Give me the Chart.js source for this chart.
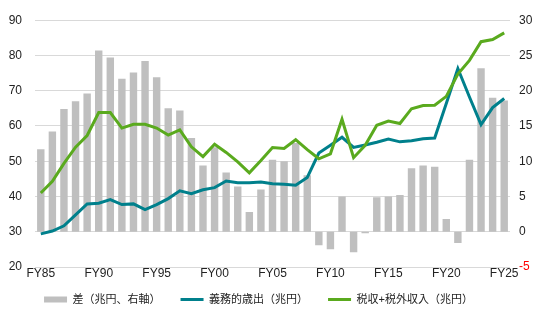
<!DOCTYPE html>
<html>
<head>
<meta charset="utf-8">
<script src="https://cdn.jsdelivr.net/npm/chart.js@4"></script>
<style>
  html, body { margin: 0; padding: 0; background: #fff; }
  #wrap { width: 545px; height: 323px; }
</style>
</head>
<body>
<div id="wrap"><canvas id="chart"></canvas></div>
<script>
const years = [
  'FY85','FY86','FY87','FY88','FY89','FY90','FY91','FY92','FY93','FY94',
  'FY95','FY96','FY97','FY98','FY99','FY00','FY01','FY02','FY03','FY04',
  'FY05','FY06','FY07','FY08','FY09','FY10','FY11','FY12','FY13','FY14',
  'FY15','FY16','FY17','FY18','FY19','FY20','FY21','FY22','FY23','FY24','FY25'
];

// 差（兆円、右軸）
const gap = [
  11.7, 14.2, 17.4, 18.5, 19.6, 25.7, 24.7, 21.7, 22.6, 24.2,
  21.9, 17.5, 17.2, 13.3, 9.4, 12.0, 8.4, 6.4, 2.8, 6.0,
  10.2, 10.0, 12.6, 8.0, -1.9, -2.5, 5.0, -2.9, -0.2, 4.9,
  5.0, 5.2, 9.0, 9.4, 9.2, 1.8, -1.6, 10.2, 23.2, 19.0, 18.6
];

// 義務的歳出（兆円）
const mandatory = [
  29.4, 30.2, 31.7, 34.8, 37.9, 38.1, 39.1, 37.7, 37.9, 36.3,
  37.7, 39.4, 41.6, 40.8, 41.9, 42.5, 44.4, 43.9, 43.9, 44.1,
  43.6, 43.5, 43.2, 45.4, 52.3, 54.5, 56.8, 53.9, 54.6, 55.4,
  56.3, 55.5, 55.8, 56.4, 56.6, 66.4, 76.3, 68.2, 60.4, 65.2, 67.8
];

// 税収+税外収入（兆円）
const revenue = [
  41.0, 44.3, 49.4, 54.0, 57.3, 63.8, 63.8, 59.4, 60.5, 60.5,
  59.4, 57.4, 58.9, 54.1, 51.3, 54.8, 52.5, 49.8, 46.7, 50.2,
  53.9, 53.6, 56.1, 53.3, 50.7, 52.1, 61.9, 51.0, 54.5, 60.2,
  61.4, 60.7, 64.9, 65.8, 65.9, 68.4, 74.7, 78.6, 83.9, 84.5, 86.4
];

const gray = '#bfbfbf';
const teal = '#00808c';
const green = '#5aaa1e';
const font = "'Liberation Sans', 'Noto Sans CJK JP', sans-serif";

// pull the legend row up closer to the axis labels and a bit to the left
const legendNudge = {
  id: 'legendNudge',
  afterLayout(chart) {
    const lg = chart.legend;
    if (!lg) return;
    lg.top -= 5;
    lg.bottom -= 5;
    lg.left -= 14;
    lg.right -= 14;
  }
};

new Chart(document.getElementById('chart'), {
  data: {
    labels: years,
    datasets: [
      {
        type: 'bar',
        label: '差（兆円、右軸）',
        data: gap,
        yAxisID: 'yRight',
        backgroundColor: gray,
        categoryPercentage: 1,
        barPercentage: 0.64,
        order: 3
      },
      {
        type: 'line',
        label: '義務的歳出（兆円）',
        data: mandatory,
        yAxisID: 'yLeft',
        borderColor: teal,
        borderWidth: 3,
        pointRadius: 0,
        tension: 0,
        order: 2
      },
      {
        type: 'line',
        label: '税収+税外収入（兆円）',
        data: revenue,
        yAxisID: 'yLeft',
        borderColor: green,
        borderWidth: 3,
        pointRadius: 0,
        tension: 0,
        order: 1
      }
    ]
  },
  plugins: [legendNudge],
  options: {
    responsive: true,
    maintainAspectRatio: false,
    animation: false,
    layout: { padding: { top: 2, left: 0, right: 0, bottom: 3 } },
    plugins: {
      tooltip: { enabled: false },
      legend: {
        position: 'bottom',
        labels: {
          font: { family: font, size: 11 },
          color: '#222',
          usePointStyle: true,
          pointStyleWidth: 23,
          boxHeight: 6,
          padding: 20,
          sort: (a, b) => a.datasetIndex - b.datasetIndex,
          generateLabels: (chart) => {
            const items = Chart.defaults.plugins.legend.labels.generateLabels(chart);
            items.forEach(item => {
              if (item.datasetIndex === 0) {
                item.pointStyle = 'rect';
                item.fillStyle = gray;
                item.lineWidth = 0;
              } else {
                const c = item.datasetIndex === 1 ? teal : green;
                item.pointStyle = 'line';
                item.strokeStyle = c;
                item.fillStyle = c;
                item.lineWidth = 3;
              }
            });
            return items;
          }
        }
      }
    },
    scales: {
      x: {
        offset: true,
        grid: { display: false, drawTicks: false },
        border: { display: false },
        ticks: {
          autoSkip: false,
          maxRotation: 0,
          padding: -1,
          color: '#222',
          font: { family: font, size: 12 },
          callback: (v, i) => (i % 5 === 0 ? years[i] : '')
        },
        afterFit: (s) => { s.height = 12; }
      },
      yLeft: {
        position: 'left',
        min: 20,
        max: 90,
        ticks: {
          stepSize: 10,
          padding: 13,
          color: '#222',
          font: { family: font, size: 12 }
        },
        grid: { color: '#d9d9d9', lineWidth: 1, drawTicks: false },
        border: { display: false },
        afterFit: (s) => { s.width = 35; }
      },
      yRight: {
        position: 'right',
        min: -5,
        max: 30,
        ticks: {
          stepSize: 5,
          padding: 9,
          color: (ctx) => (ctx.tick && ctx.tick.value < 0 ? '#ff0000' : '#222'),
          font: { family: font, size: 12 }
        },
        grid: { display: false, drawTicks: false },
        border: { display: false },
        afterFit: (s) => { s.width = 35; }
      }
    }
  }
});
</script>
</body>
</html>
